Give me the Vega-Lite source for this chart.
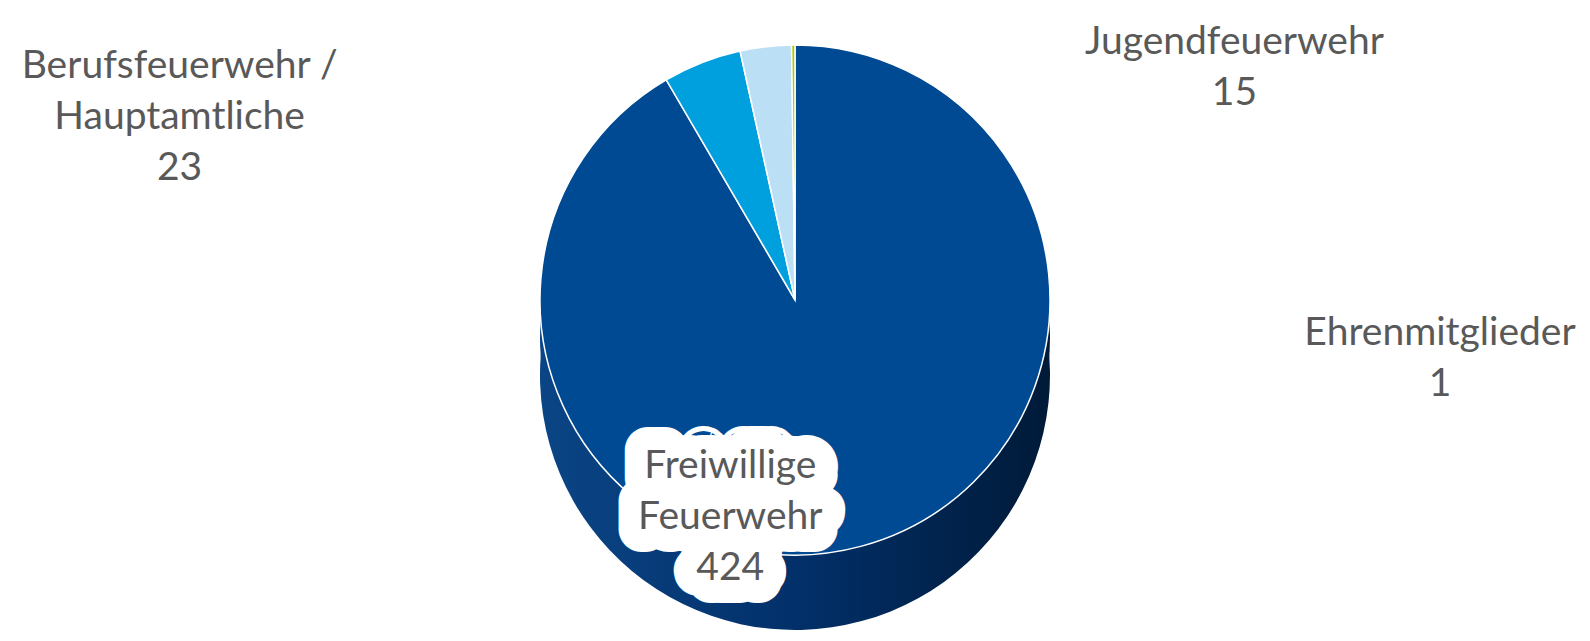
{
  "$schema": "https://vega.github.io/schema/vega-lite/v6.json",
  "width": 1590,
  "height": 641,
  "autosize": {"type": "none"},
  "padding": 0,
  "background": "white",
  "config": {"view": {"stroke": null}},
  "data": {
    "values": [
      {"category": "Freiwillige Feuerwehr", "label": "Freiwillige\nFeuerwehr\n424", "value": 424, "order": 1},
      {"category": "Berufsfeuerwehr / Hauptamtliche", "label": "Berufsfeuerwehr /\nHauptamtliche\n23", "value": 23, "order": 2},
      {"category": "Jugendfeuerwehr", "label": "Jugendfeuerwehr\n15", "value": 15, "order": 3},
      {"category": "Ehrenmitglieder", "label": "Ehrenmitglieder\n1", "value": 1, "order": 4}
    ]
  },
  "encoding": {
    "theta": {"field": "value", "type": "quantitative", "stack": true},
    "order": {"field": "order", "type": "quantitative"},
    "detail": {"field": "category", "type": "nominal"}
  },
  "layer": [
    {
      "mark": {
        "type": "arc", "radius": 255, "yOffset": 54.5,
        "fill": {"gradient": "linear", "x1": 0, "y1": 0, "x2": 1, "y2": 0,
          "stops": [{"offset": 0, "color": "#0b4585"}, {"offset": 0.5, "color": "#02306a"}, {"offset": 1, "color": "#001a38"}]}
      }
    },
    {
      "mark": {
        "type": "arc", "radius": 255, "yOffset": 17,
        "fill": {"gradient": "linear", "x1": 0, "y1": 0, "x2": 1, "y2": 0,
          "stops": [{"offset": 0, "color": "#0b4585"}, {"offset": 0.5, "color": "#02306a"}, {"offset": 1, "color": "#001a38"}]}
      }
    },
    {
      "mark": {"type": "arc", "radius": 255, "yOffset": -20.5, "stroke": "white", "strokeWidth": 1.5},
      "encoding": {
        "color": {
          "field": "category", "type": "nominal",
          "scale": {
            "domain": ["Freiwillige Feuerwehr", "Berufsfeuerwehr / Hauptamtliche", "Jugendfeuerwehr", "Ehrenmitglieder"],
            "range": ["#004a93", "#00a0df", "#bbdff4", "#b3c800"]
          },
          "legend": null
        }
      }
    },
    {
      "mark": {"type": "text", "radius": 200, "dx": -117, "dy": -48, "font": "Lato", "fontSize": 39, "color": "white", "stroke": "white", "strokeWidth": 46, "strokeJoin": "round", "align": "center", "baseline": "middle", "lineBreak": "\n", "lineHeight": 51},
      "encoding": {"text": {"condition": {"test": "datum.category === 'Freiwillige Feuerwehr'", "field": "label", "type": "nominal"}, "value": ""}}
    },
    {
      "mark": {"type": "text", "radius": 200, "dx": -117, "dy": -48, "font": "Lato", "fontSize": 39, "color": "#595959", "align": "center", "baseline": "middle", "lineBreak": "\n", "lineHeight": 51},
      "encoding": {"text": {"condition": {"test": "datum.category === 'Freiwillige Feuerwehr'", "field": "label", "type": "nominal"}, "value": ""}}
    },
    {
      "mark": {"type": "text", "radius": 300, "dx": -506, "dy": 25, "font": "Lato", "fontSize": 39, "color": "#595959", "align": "center", "baseline": "middle", "lineBreak": "\n", "lineHeight": 51},
      "encoding": {"text": {"condition": {"test": "datum.category === 'Berufsfeuerwehr / Hauptamtliche'", "field": "label", "type": "nominal"}, "value": ""}}
    },
    {
      "mark": {"type": "text", "radius": 300, "dx": 474, "dy": 20, "font": "Lato", "fontSize": 39, "color": "#595959", "align": "center", "baseline": "middle", "lineBreak": "\n", "lineHeight": 51},
      "encoding": {"text": {"condition": {"test": "datum.category === 'Jugendfeuerwehr'", "field": "label", "type": "nominal"}, "value": ""}}
    },
    {
      "mark": {"type": "text", "radius": 300, "dx": 647, "dy": 312, "font": "Lato", "fontSize": 39, "color": "#595959", "align": "center", "baseline": "middle", "lineBreak": "\n", "lineHeight": 51},
      "encoding": {"text": {"condition": {"test": "datum.category === 'Ehrenmitglieder'", "field": "label", "type": "nominal"}, "value": ""}}
    }
  ]
}
